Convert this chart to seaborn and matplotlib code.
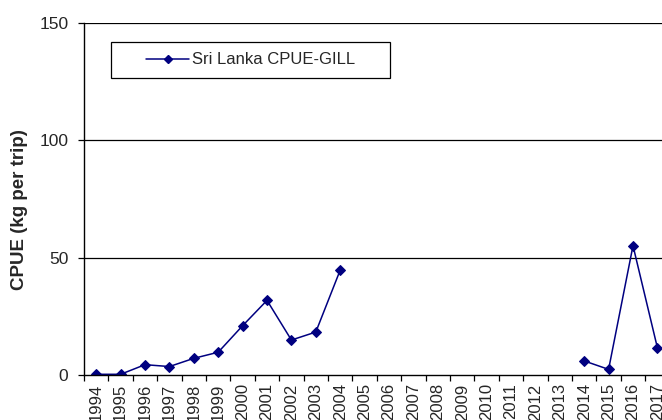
import matplotlib
matplotlib.use("Agg")
import matplotlib.pyplot as plt
import seaborn as sns
import numpy as np
import pandas as pd
from matplotlib.lines import Line2D
from matplotlib.patches import Rectangle

years = list(range(1994, 2018))
cpue = [0.3, 0.3, 4.4, 3.6, 7.1, 9.7, 21.0, 31.8, 14.9, 18.3, 44.7,
        np.nan, np.nan, np.nan, np.nan, np.nan, np.nan, np.nan, np.nan, np.nan,
        6.0, 2.4, 55.1, 11.6]
series_name = "Sri Lanka CPUE-GILL"
y_ticks = [0, 50, 100, 150]

sns.set_theme(style="white")
plt.rcParams['font.family'] = ['Liberation Sans', 'DejaVu Sans']

df = pd.DataFrame({"pos": np.arange(len(years)), "year": years, "val": cpue})
df = df.dropna().copy()
df["seg"] = (df["pos"].diff().fillna(1) > 1).cumsum()

W, H = 662, 420
fig = plt.figure(figsize=(W/100, H/100), dpi=100)
step = 24.4
ncat_visible = 26
ax_w = ncat_visible * step
ax = fig.add_axes([84/W, 45/H, ax_w/W, 352/H])

color = "#000080"
sns.lineplot(data=df, x="pos", y="val", units="seg", estimator=None, ax=ax,
             color=color, marker="D", markersize=5.5, linewidth=1.1,
             markeredgecolor=color, legend=False)

ax.set_xlim(-0.5, ncat_visible - 0.5)
ax.set_ylim(0, 150)
ax.set_yticks(y_ticks)
ax.set_yticklabels([str(v) for v in y_ticks], fontsize=12.5)
for v in y_ticks[1:]:
    ax.axhline(v, color="black", linewidth=0.9, zorder=0)

ax.set_xticks(np.arange(len(years)))
ax.set_xticklabels([str(y) for y in years], rotation=90, fontsize=12, va="top")
ax.set_xticks(np.arange(len(years) + 2) - 0.5, minor=True)
ax.tick_params(axis="x", which="major", length=0, pad=6)
ax.tick_params(axis="x", which="minor", length=4.3, width=0.9, color="black", direction="out", bottom=True)
ax.tick_params(axis="y", which="major", length=4.3, width=0.9, color="black", direction="out", left=True, pad=7)

for s in ["top", "right"]:
    ax.spines[s].set_visible(False)
for s in ["left", "bottom"]:
    ax.spines[s].set_color("black")
    ax.spines[s].set_linewidth(1.0)

ax.set_xlabel("")
ax.set_ylabel("CPUE (kg per trip)", fontsize=13.5, fontweight="bold")
ax.yaxis.set_label_coords((28 - 84) / ax_w, (375 - 210) / 352)

# legend box (manual frame to match the wide box)
fig.patches.append(Rectangle((111/W, 1 - 78/H), (390-111)/W, 36/H, transform=fig.transFigure,
                             facecolor="white", edgecolor="black", linewidth=0.9, zorder=5))
handle = Line2D([0], [0], color=color, marker="D", markersize=4, linewidth=1.1)
leg = fig.legend([handle], [series_name], loc="center left",
                 bbox_to_anchor=(146/W, 1 - 60/H), bbox_transform=fig.transFigure,
                 fontsize=12, frameon=False, handlelength=2.6,
                 borderpad=0, borderaxespad=0, handletextpad=0.15)
leg.set_zorder(6)

fig.savefig("out.png", dpi=100)
